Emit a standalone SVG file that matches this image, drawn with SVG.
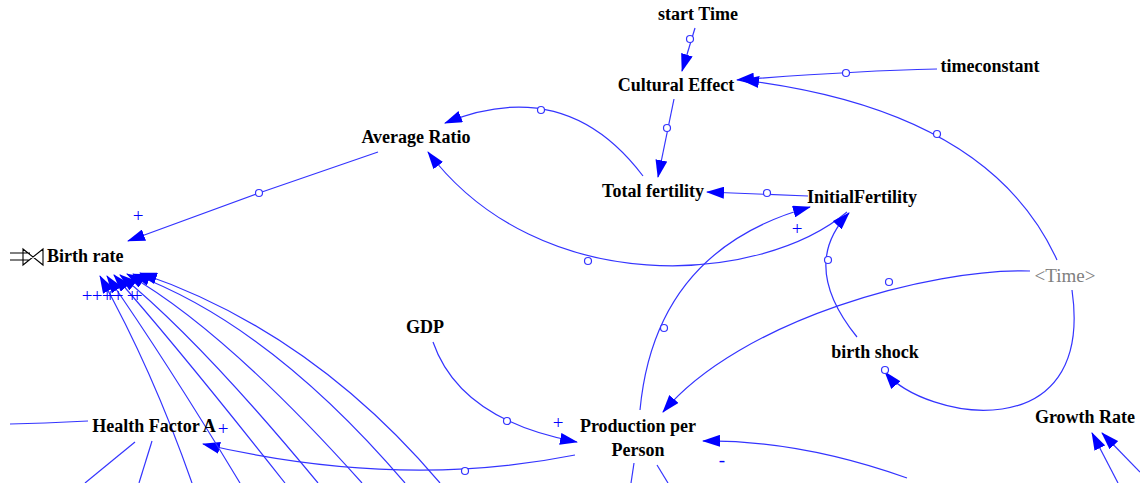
<svg xmlns="http://www.w3.org/2000/svg" width="1140" height="483" viewBox="0 0 1140 483">
<style>
.lbl{font-family:"Liberation Serif","Times New Roman",serif;font-size:18px;font-weight:bold;fill:#000;text-anchor:middle}
.shadow{font-family:"Liberation Serif","Times New Roman",serif;font-size:19px;fill:#808080;text-anchor:middle}
.pol{font-family:"Liberation Serif","Times New Roman",serif;font-size:19px;fill:#0000ff;text-anchor:middle}
.ln{fill:none;stroke:#3434ff;stroke-width:1.2}
.arr{marker-end:url(#ah)}
.dot{fill:#fff;stroke:#3434ff;stroke-width:1.2}
.valve{fill:none;stroke:#000;stroke-width:1.1}
</style>
<defs>
<marker id="ah" markerUnits="userSpaceOnUse" markerWidth="18" markerHeight="12" viewBox="0 0 18 12" refX="17" refY="6" orient="auto">
<path d="M0,0 L18,6 L0,12 Z" fill="#0000ff"/>
</marker>
</defs>
<rect width="1140" height="483" fill="#fff"/>
<g id="connectors">
<path class="ln arr" d="M695,28 L682,71"/>
<circle class="dot" cx="690" cy="39" r="3.5"/>
<path class="ln arr" d="M937,69 Q850,71 737,80"/>
<circle class="dot" cx="846" cy="73" r="3.5"/>
<path class="ln arr" d="M1057,260 Q989,110 742,80"/>
<circle class="dot" cx="937" cy="134" r="3.5"/>
<path class="ln arr" d="M674,99 L658,177"/>
<circle class="dot" cx="667" cy="128" r="3.5"/>
<path class="ln arr" d="M643,176 Q566,74 445,123"/>
<circle class="dot" cx="541" cy="110" r="3.5"/>
<path class="ln arr" d="M808,196 L707,192"/>
<circle class="dot" cx="767" cy="193" r="3.5"/>
<path class="ln arr" d="M847,212 C760,285 540,300 428,152"/>
<circle class="dot" cx="588" cy="261" r="3.5"/>
<path class="ln arr" d="M640,410 Q655,250 810,207"/>
<circle class="dot" cx="664" cy="328" r="3.5"/>
<path class="ln arr" d="M857,337 Q799,265 849,213"/>
<circle class="dot" cx="828" cy="260" r="3.5"/>
<path class="ln arr" d="M1030,271 C930,268 740,320 663,412"/>
<circle class="dot" cx="889" cy="282" r="3.5"/>
<path class="ln arr" d="M1072,290 C1095,450 925,420 885,372"/>
<circle class="dot" cx="885" cy="370" r="3.5"/>
<path class="ln arr" d="M433,342 Q460,420 577,442"/>
<circle class="dot" cx="507" cy="421" r="3.5"/>
<path class="ln arr" d="M575,455 Q400,490 203,444"/>
<circle class="dot" cx="465" cy="471" r="3.5"/>
<path class="ln arr" d="M907,478 Q800,440 703,441"/>
<path class="ln" d="M634,463 L631,483"/>
<path class="ln" d="M657,465 L668,483"/>
<path class="ln arr" d="M378,152 L259,193 L128,241"/>
<circle class="dot" cx="259" cy="193" r="3.5"/>
<path class="ln" d="M10,424 L45,423 L88,421"/>
<path class="ln" d="M135,442 L85,483"/>
<path class="ln" d="M152,441 L139,483"/>
<path class="ln arr" d="M192,483 Q152,369 100,276"/>
<path class="ln arr" d="M240,483 Q165,359 107,276"/>
<path class="ln arr" d="M285,483 Q180,350 114,275"/>
<path class="ln arr" d="M318,483 Q200,340 120,275"/>
<path class="ln arr" d="M362,483 Q225,330 127,274"/>
<path class="ln arr" d="M405,483 Q270,325 133,274"/>
<path class="ln arr" d="M440,483 Q311,331 140,273"/>
<path class="ln arr" d="M1118,483 L1092,433"/>
<path class="ln arr" d="M1140,472 L1102,433"/>
</g>
<g id="polarities">
<text class="pol" x="138" y="222">+</text>
<text class="pol" x="797" y="235">+</text>
<text class="pol" x="558" y="429">+</text>
<text class="pol" x="223" y="435">+</text>
<text class="pol" x="722" y="466">-</text>
<text class="pol" x="87 97 107 110 118 132 137" y="302">+++++++</text>
</g>
<g id="start-time"><text class="lbl" x="698" y="20">start Time</text></g>
<g id="cultural-effect"><text class="lbl" x="676" y="91">Cultural Effect</text></g>
<g id="timeconstant"><text class="lbl" x="990" y="72">timeconstant</text></g>
<g id="average-ratio"><text class="lbl" x="416" y="143">Average Ratio</text></g>
<g id="total-fertility"><text class="lbl" x="653" y="197">Total fertility</text></g>
<g id="initial-fertility"><text class="lbl" x="862" y="203">InitialFertility</text></g>
<g id="birth-rate">
<path class="valve" d="M10,253 L30,253 M10,260 L30,260 M23,249 L23,265 L43,249 L43,265 Z"/>
<text class="lbl" x="47" y="262" style="text-anchor:start">Birth rate</text>
</g>
<g id="time"><text class="shadow" x="1065" y="282">&lt;Time&gt;</text></g>
<g id="gdp"><text class="lbl" x="425" y="333">GDP</text></g>
<g id="birth-shock"><text class="lbl" x="875" y="358">birth shock</text></g>
<g id="production-per-person">
<text class="lbl" x="638" y="432">Production per</text>
<text class="lbl" x="638" y="456">Person</text>
</g>
<g id="health-factor-a"><text class="lbl" x="154" y="432">Health Factor A</text></g>
<g id="growth-rate"><text class="lbl" x="1085" y="423">Growth Rate</text></g>
</svg>
